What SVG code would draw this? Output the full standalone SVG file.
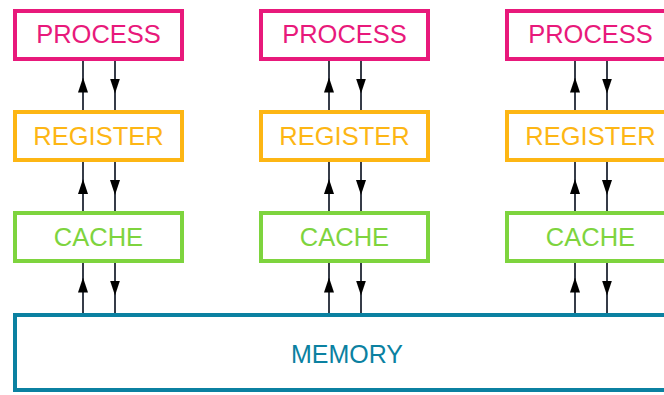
<svg xmlns="http://www.w3.org/2000/svg" width="664" height="395" viewBox="0 0 664 395">
<defs>
<style>
.box{fill:#fff;stroke-width:4}
.p{stroke:#e8197b}
.r{stroke:#fdb614}
.c{stroke:#7ed43e}
.m{stroke:#0b81a1}
.t{font-family:"Liberation Sans",Arial,sans-serif;font-size:25.5px;text-anchor:middle}
.tp{fill:#e8197b}
.tr{fill:#fdb614}
.tc{fill:#7ed43e}
.tm{fill:#0b81a1;font-size:25px}
.a{stroke:#363c48;stroke-width:2;fill:none;marker-mid:url(#ah)}
</style>
<marker id="ah" markerUnits="userSpaceOnUse" markerWidth="15" markerHeight="10" refX="7.5" refY="5" orient="auto" viewBox="0 0 15 10">
<path d="M0,0 L15,5 L0,10 z" fill="#000"/>
</marker>
</defs>
<rect width="664" height="395" fill="#fff"/>
<g id="memory">
<rect class="box m" x="15" y="315" width="700" height="75"/>
<text class="t tm" x="347" y="363">MEMORY</text>
</g>
<g id="process1"><rect class="box p" x="15" y="11" width="167" height="48"/><text class="t tp" x="98.5" y="43">PROCESS</text></g>
<g id="register1"><rect class="box r" x="15" y="112" width="167" height="48"/><text class="t tr" x="98.5" y="145">REGISTER</text></g>
<g id="cache1"><rect class="box c" x="15" y="213" width="167" height="48"/><text class="t tc" x="98.5" y="246">CACHE</text></g>
<g id="process2"><rect class="box p" x="261" y="11" width="167" height="48"/><text class="t tp" x="344.5" y="43">PROCESS</text></g>
<g id="register2"><rect class="box r" x="261" y="112" width="167" height="48"/><text class="t tr" x="344.5" y="145">REGISTER</text></g>
<g id="cache2"><rect class="box c" x="261" y="213" width="167" height="48"/><text class="t tc" x="344.5" y="246">CACHE</text></g>
<g id="process3"><rect class="box p" x="507" y="11" width="167" height="48"/><text class="t tp" x="590.5" y="43">PROCESS</text></g>
<g id="register3"><rect class="box r" x="507" y="112" width="167" height="48"/><text class="t tr" x="590.5" y="145">REGISTER</text></g>
<g id="cache3"><rect class="box c" x="507" y="213" width="167" height="48"/><text class="t tc" x="590.5" y="246">CACHE</text></g>
<g id="connectors">
<path class="a" d="M83 110 L83 85 L83 61"/>
<path class="a" d="M115 61 L115 86 L115 110"/>
<path class="a" d="M83 211 L83 186.5 L83 162"/>
<path class="a" d="M115 162 L115 187.5 L115 211"/>
<path class="a" d="M83 313 L83 285 L83 263"/>
<path class="a" d="M115 263 L115 288 L115 313"/>
<path class="a" d="M329 110 L329 85 L329 61"/>
<path class="a" d="M361 61 L361 86 L361 110"/>
<path class="a" d="M329 211 L329 186.5 L329 162"/>
<path class="a" d="M361 162 L361 187.5 L361 211"/>
<path class="a" d="M329 313 L329 285 L329 263"/>
<path class="a" d="M361 263 L361 288 L361 313"/>
<path class="a" d="M575 110 L575 85 L575 61"/>
<path class="a" d="M607 61 L607 86 L607 110"/>
<path class="a" d="M575 211 L575 186.5 L575 162"/>
<path class="a" d="M607 162 L607 187.5 L607 211"/>
<path class="a" d="M575 313 L575 285 L575 263"/>
<path class="a" d="M607 263 L607 288 L607 313"/>
</g>
</svg>
